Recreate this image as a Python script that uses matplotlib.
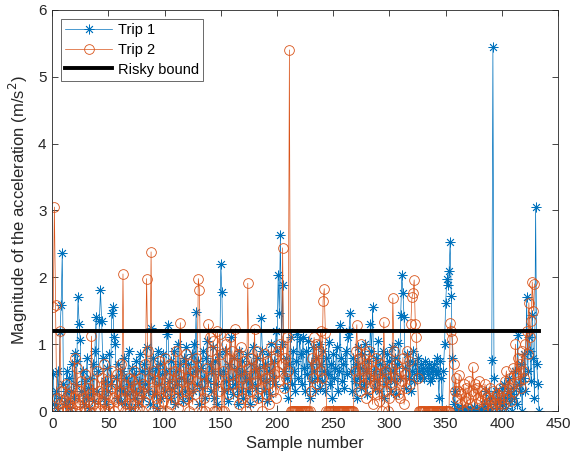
import numpy as np
import matplotlib
matplotlib.use('Agg')
import matplotlib.pyplot as plt

plt.rcParams['font.family'] = ['Liberation Sans', 'DejaVu Sans']

# acceleration magnitude per sample (m/s^2)
trip1 = [
    0.55, 0.10, 0.30, 0.05, 0.60, 0.20, 1.18, 1.59, 2.37, 0.40, 0.10, 0.30, 0.60, 0.15, 0.50, 0.05, 0.30, 0.70, 0.20, 0.87,
    0.40, 0.75, 1.71, 1.30, 1.06, 0.30, 0.60, 0.10, 0.45, 0.20, 0.80, 0.35, 0.05, 0.50, 0.25, 0.70, 0.15, 0.90, 1.41, 0.30,
    0.60, 1.35, 1.81, 1.35, 0.80, 0.20, 0.45, 0.10, 0.65, 0.30, 0.85, 0.40, 1.47, 1.56, 1.10, 1.00, 0.50, 0.20, 0.70, 0.35,
    0.15, 0.60, 0.30, 0.80, 0.10, 0.50, 0.25, 0.90, 0.40, 0.05, 0.65, 0.30, 0.55, 0.20, 0.75, 0.10, 0.45, 0.85, 0.30, 0.60,
    0.20, 0.70, 0.40, 0.95, 0.30, 0.60, 0.10, 1.24, 0.50, 0.80, 0.25, 0.65, 0.05, 0.90, 0.40, 0.70, 0.20, 0.55, 0.85, 0.30,
    0.60, 1.15, 1.29, 0.45, 0.20, 0.75, 0.35, 0.90, 0.10, 0.60, 0.40, 1.00, 0.25, 0.70, 0.50, 0.15, 0.80, 0.30, 0.95, 0.45,
    0.70, 0.20, 0.55, 0.85, 0.30, 1.00, 0.60, 1.48, 0.40, 0.75, 0.10, 0.65, 0.35, 0.90, 0.50, 0.20, 0.80, 1.05, 0.45, 0.70,
    0.30, 0.60, 0.95, 0.20, 0.75, 0.40, 0.10, 0.85, 0.55, 2.20, 1.78, 0.60, 0.30, 0.90, 0.45, 0.15, 0.70, 0.35, 1.10, 0.50,
    0.25, 0.80, 0.40, 0.65, 0.10, 0.90, 0.55, 0.30, 0.75, 0.20, 0.60, 0.45, 0.85, 0.30, 0.50, 0.10, 0.70, 0.40, 0.95, 0.60,
    0.35, 0.80, 0.20, 0.65, 0.50, 1.39, 0.90, 0.30, 0.70, 0.45, 0.15, 0.85, 0.60, 0.25, 1.00, 0.50, 0.75, 0.40, 1.20, 0.90,
    2.03, 1.47, 2.63, 1.00, 1.88, 0.60, 0.35, 0.80, 0.50, 0.20, 0.70, 1.10, 0.40, 0.90, 0.60, 0.30, 0.75, 1.15, 0.50, 1.08,
    0.85, 0.40, 1.10, 0.65, 0.30, 0.90, 0.55, 1.05, 0.20, 0.70, 0.45, 0.95, 0.60, 0.30, 0.80, 0.50, 1.00, 0.35, 0.70, 0.45,
    0.90, 0.60, 0.30, 0.80, 0.55, 1.03, 0.40, 0.70, 0.20, 0.85, 0.50, 0.65, 0.95, 0.30, 0.60, 1.29, 0.80, 0.45, 0.70, 0.35,
    0.90, 0.55, 1.10, 1.20, 1.47, 0.60, 0.30, 0.80, 0.45, 0.70, 0.20, 0.95, 0.50, 0.65, 0.35, 0.85, 0.40, 1.00, 0.60, 0.25,
    0.75, 0.50, 1.30, 0.90, 1.55, 0.60, 0.35, 0.80, 0.45, 1.05, 0.30, 0.70, 0.55, 0.90, 0.20, 0.65, 0.40, 0.85, 0.50, 0.75,
    0.30, 0.95, 0.60, 0.45, 0.80, 0.25, 0.70, 1.02, 0.50, 1.43, 2.03, 1.77, 1.40, 0.65, 0.35, 0.85, 0.50, 0.75, 0.30, 0.60,
    0.90, 0.45, 0.70, 0.55, 0.80, 0.60, 0.50, 0.70, 0.55, 0.65, 0.50, 0.75, 0.60, 0.55, 0.70, 0.45, 0.65, 0.50, 0.60, 0.70,
    0.55, 0.80, 0.60, 0.20, 0.75, 0.50, 0.00, 0.60, 1.00, 1.62, 1.97, 1.88, 2.09, 2.53, 1.72, 0.80, 0.10, 0.30, 0.00, 0.05,
    0.00, 0.02, 0.00, 0.05, 0.00, 0.00, 0.03, 0.00, 0.00, 0.04, 0.00, 0.00, 0.02, 0.00, 0.06, 0.00, 0.00, 0.03, 0.00, 0.00,
    0.00, 0.02, 0.00, 0.10, 0.00, 0.30, 0.05, 0.00, 0.20, 0.00, 0.76, 5.45, 0.50, 0.10, 0.30, 0.05, 0.20, 0.00, 0.15, 0.35,
    0.10, 0.40, 0.20, 0.05, 0.30, 0.50, 0.15, 0.25, 0.00, 0.35, 0.20, 0.60, 0.10, 1.13, 0.40, 0.30, 0.70, 0.00, 0.50, 0.85,
    0.30, 1.70, 0.60, 1.10, 0.90, 0.45, 1.43, 0.80, 0.20, 3.05, 0.70, 0.40, 0.00,
]

trip2 = [
    1.55, 3.05, 1.59, 0.20, 0.00, 0.10, 1.20, 0.30, 0.05, 0.00, 0.15, 0.40, 0.00, 0.25, 0.10, 0.00, 0.35, 0.05, 0.20, 0.80,
    0.00, 0.65, 0.10, 0.30, 0.00, 0.45, 0.20, 0.05, 0.55, 0.00, 0.15, 0.35, 0.00, 0.25, 1.12, 0.10, 0.40, 0.00, 0.20, 0.60,
    0.05, 0.30, 0.00, 0.50, 0.15, 0.70, 0.00, 0.25, 0.45, 0.10, 0.00, 0.35, 0.60, 0.20, 0.00, 0.40, 0.15, 0.55, 0.05, 0.30,
    0.70, 0.20, 2.05, 0.40, 0.00, 0.30, 0.10, 0.50, 0.00, 0.25, 0.45, 0.10, 0.60, 0.00, 0.35, 0.20, 0.05, 0.50, 0.30, 0.00,
    0.40, 0.15, 0.70, 1.98, 0.90, 0.25, 0.50, 2.38, 0.30, 0.00, 0.60, 0.20, 0.45, 0.10, 0.75, 0.00, 0.35, 0.55, 0.15, 0.80,
    0.30, 0.00, 0.50, 0.25, 0.70, 0.10, 0.40, 0.60, 0.20, 0.90, 0.35, 0.05, 0.55, 1.32, 0.45, 0.15, 0.65, 0.30, 0.85, 0.20,
    0.50, 0.00, 0.70, 0.35, 0.10, 0.60, 0.25, 0.80, 0.45, 1.98, 1.81, 0.55, 0.00, 0.40, 0.20, 0.00, 0.65, 0.30, 1.30, 1.10,
    0.90, 0.50, 1.05, 0.00, 0.70, 0.00, 1.20, 0.30, 1.15, 0.85, 0.00, 0.60, 0.00, 0.40, 1.00, 0.80, 0.25, 1.10, 0.55, 0.90,
    0.40, 0.70, 1.23, 0.30, 0.85, 0.10, 0.60, 0.95, 0.20, 0.50, 0.75, 0.00, 0.40, 1.91, 0.65, 0.30, 0.80, 0.15, 0.55, 1.23,
    0.45, 0.90, 0.20, 0.70, 0.35, 0.60, 0.00, 0.85, 0.50, 0.25, 0.75, 0.40, 0.10, 0.65, 0.95, 0.30, 0.55, 0.80, 0.20, 0.60,
    0.90, 0.45, 1.00, 0.70, 2.44, 0.35, 0.80, 0.50, 1.10, 0.60, 5.40, 0.00, 0.00, 0.00, 0.00, 0.00, 0.00, 0.00, 0.00, 0.00,
    0.00, 0.00, 0.00, 0.00, 0.00, 0.00, 0.00, 0.00, 0.00, 0.30, 0.80, 0.50, 1.10, 0.70, 1.00, 0.40, 0.90, 0.60, 1.20, 0.50,
    1.65, 1.83, 1.17, 0.00, 0.00, 0.00, 0.00, 0.00, 0.00, 0.00, 0.00, 0.00, 0.00, 0.00, 0.00, 0.00, 0.00, 0.00, 0.00, 0.00,
    0.00, 0.00, 0.00, 0.00, 0.00, 0.00, 0.00, 0.00, 0.60, 0.90, 1.29, 0.50, 0.80, 0.30, 1.00, 0.65, 0.40, 0.85, 0.20, 0.70,
    0.50, 0.90, 0.35, 0.75, 0.10, 0.60, 0.40, 0.80, 0.25, 0.55, 0.15, 0.70, 0.00, 0.45, 1.33, 0.60, 0.30, 0.50, 0.00, 0.20,
    0.65, 0.40, 1.69, 0.90, 0.30, 0.70, 0.50, 0.25, 0.20, 0.60, 0.45, 0.80, 0.10, 0.55, 0.35, 0.90, 0.75, 0.40, 1.30, 1.70,
    1.76, 1.96, 1.30, 1.11, 0.50, 0.00, 0.00, 0.00, 0.00, 0.00, 0.00, 0.00, 0.00, 0.00, 0.00, 0.00, 0.00, 0.00, 0.00, 0.00,
    0.00, 0.00, 0.00, 0.00, 0.00, 0.00, 0.00, 0.00, 0.00, 0.00, 0.00, 0.00, 0.00, 1.32, 1.20, 1.07, 0.70, 0.30, 0.50, 0.20,
    0.30, 0.54, 0.10, 0.25, 0.00, 0.40, 0.15, 0.35, 0.05, 0.20, 0.45, 0.10, 0.30, 0.66, 0.25, 0.40, 0.10, 0.35, 0.20, 0.45,
    0.15, 0.30, 0.05, 0.25, 0.40, 0.10, 0.20, 0.00, 0.35, 0.15, 0.05, 0.30, 0.10, 0.20, 0.00, 0.25, 0.10, 0.35, 0.05, 0.20,
    0.30, 0.10, 0.45, 0.60, 0.20, 0.35, 0.50, 0.15, 0.40, 0.65, 0.30, 1.00, 0.55, 0.80, 0.45, 0.70, 0.35, 0.90, 0.60, 0.50,
    1.00, 1.20, 0.85, 1.62, 1.10, 1.35, 1.93, 1.50, 1.90,
]

risky_bound = 1.2
x_ticks = [0, 50, 100, 150, 200, 250, 300, 350, 400, 450]
y_ticks = [0, 1, 2, 3, 4, 5, 6]

blue = '#0072BD'
orange = '#D95319'
axis_col = '#262626'

x1 = np.arange(1, len(trip1) + 1)
x2 = np.arange(1, len(trip2) + 1)

fig = plt.figure(figsize=(5.73, 4.66), dpi=100)
ax = fig.add_axes([0.091, 0.118, 0.883, 0.861])

# MATLAB style '*' = 8-spoke asterisk
ax.plot(x1, trip1, color=blue, lw=0.5, marker=(8, 2, 0), ms=7, mew=0.6, label='Trip 1')
ax.plot(x2, trip2, color=orange, lw=0.5, marker='o', ms=7, mfc='none', mew=0.6, label='Trip 2')
ax.plot([x1[0], x1[-1]], [risky_bound, risky_bound], color='black', lw=2.8, label='Risky bound')

ax.set_xlim(0, 450)
ax.set_ylim(0, 6)
ax.set_xticks(x_ticks)
ax.set_yticks(y_ticks)
ax.tick_params(direction='in', length=4, width=0.6, top=True, right=True,
               labelsize=11, colors=axis_col, pad=4)
for s in ax.spines.values():
    s.set_color(axis_col)
    s.set_linewidth(0.6)

ax.set_xlabel('Sample number', fontsize=12, color=axis_col, labelpad=4)
ax.set_ylabel('Magnitude of the acceleration (m/s$^2$)', fontsize=12, color=axis_col, labelpad=6)

leg = ax.legend(loc='upper left', fontsize=10.5, frameon=True, fancybox=False,
                handlelength=3.2, borderpad=0.3, labelspacing=0.4, handletextpad=0.4,
                borderaxespad=0.6)
leg.get_frame().set_edgecolor(axis_col)
leg.get_frame().set_linewidth(0.6)
for t in leg.get_texts():
    t.set_color('black')

fig.savefig('out.png', dpi=100)
